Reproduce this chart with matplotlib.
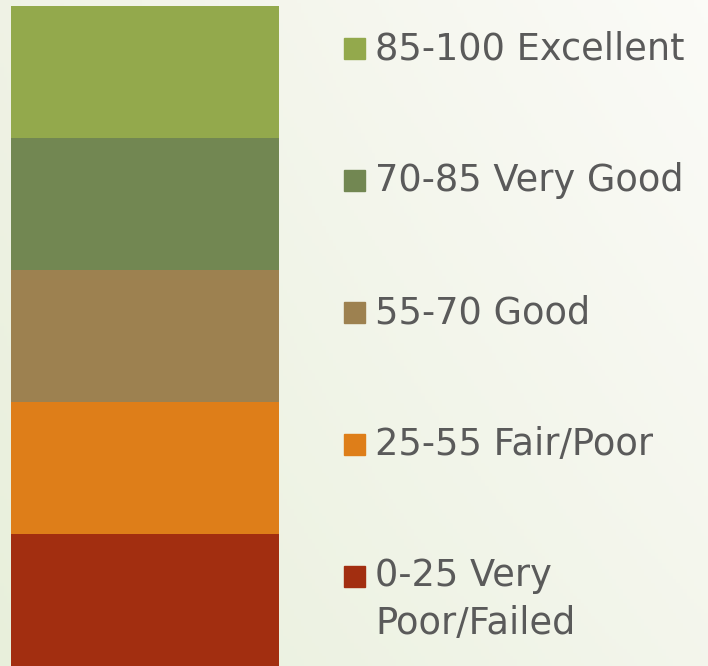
import matplotlib
matplotlib.use("Agg")
import matplotlib.pyplot as plt
import matplotlib.transforms as mtransforms
import numpy as np

# score bands, top to bottom
labels = ["85-100 Excellent", "70-85 Very Good", "55-70 Good",
          "25-55 Fair/Poor", "0-25 Very\nPoor/Failed"]
heights = [20, 20, 20, 20, 20]
colors = ["#93a94c", "#728752", "#9d8150", "#de7e19", "#a22e10"]

fig = plt.figure(figsize=(7.08, 6.66), dpi=100)

# soft background gradient
bg = fig.add_axes([0, 0, 1, 1], zorder=-1)
gx, gy = np.meshgrid(np.linspace(0, 1, 200), np.linspace(0, 1, 200))
tl = np.array([0.94, 0.95, 0.90])
tr = np.array([0.985, 0.985, 0.97])
bl = np.array([0.91, 0.94, 0.86])
br = np.array([0.955, 0.963, 0.925])
img = (tl * ((1 - gx) * (1 - gy))[..., None] + tr * (gx * (1 - gy))[..., None]
       + bl * ((1 - gx) * gy)[..., None] + br * (gx * gy)[..., None])
bg.imshow(img, aspect="auto", extent=[0, 1, 0, 1])
bg.axis("off")

# the stacked bar
ax = fig.add_axes([11 / 708, 0, 268 / 708, 660 / 666])
bottom = 0
tops = []
for h, c in zip(heights[::-1], colors[::-1]):
    ax.bar(0, h, bottom=bottom, width=1, color=c, linewidth=0)
    bottom += h
    tops.append(bottom)
tops = tops[::-1]
ax.set_xlim(-0.5, 0.5)
ax.set_ylim(0, sum(heights))
ax.axis("off")

# legend beside the bar, one entry per band
px = sum(heights) / 660.0  # data units per pixel
trans = mtransforms.blended_transform_factory(fig.transFigure, ax.transData)
for lab, c, top in zip(labels, colors, tops):
    ax.add_patch(plt.Rectangle((344 / 708, top - 53 * px), 21 / 708, 21 * px,
                               transform=trans, color=c, clip_on=False))
    # va='baseline' pins the last line, so drop extra lines below
    extra = lab.count("\n") * 47 * px
    ax.text(375 / 708, top - 53 * px - extra, lab, transform=trans,
            va="baseline", ha="left", fontsize=26.5, color="#5a5a5a",
            family="DejaVu Sans", linespacing=1.39, clip_on=False)

fig.savefig("out.png", dpi=100)
